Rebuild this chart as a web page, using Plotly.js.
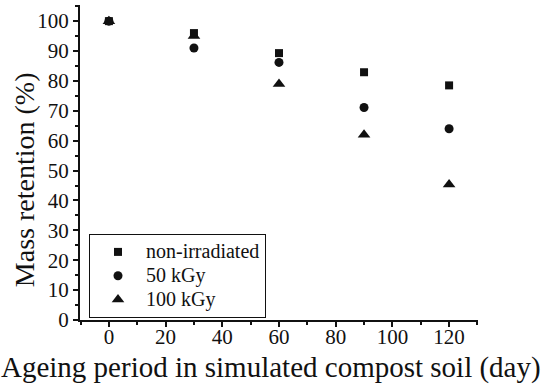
<!DOCTYPE html>
<html>
<head>
<meta charset="utf-8">
<script src="https://cdn.plot.ly/plotly-3.0.1.min.js"></script>
<style>html,body{margin:0;padding:0;background:#fff;}#chart{width:541px;height:389px;}</style>
</head>
<body>
<div id="chart"></div>
<script>
const days = [0, 30, 60, 90, 120];
const nonIrradiated = [100, 96, 89.3, 82.9, 78.5];
const kGy50 = [100, 91, 86.2, 71.1, 64];
const kGy100 = [100, 95, 79, 62, 45.3];
const seriesNames = ['non-irradiated', '50 kGy', '100 kGy'];
const xTicks = [0, 20, 40, 60, 80, 100, 120];
const yTicks = [0, 10, 20, 30, 40, 50, 60, 70, 80, 90, 100];
const xTitle = 'Ageing period in simulated compost soil (day)';
const yTitle = 'Mass retention (%)';

const font = '"Liberation Serif", serif';
const traces = [
  {x: days, y: kGy100, name: seriesNames[2], symbol: 'triangle-up', size: 11},
  {x: days, y: kGy50, name: seriesNames[1], symbol: 'circle', size: 9},
  {x: days, y: nonIrradiated, name: seriesNames[0], symbol: 'square', size: 8}
].map(t => ({
  x: t.x, y: t.y, type: 'scatter', mode: 'markers',
  name: '<span style="font-size:20px">' + t.name + '</span>',
  marker: {symbol: t.symbol, size: t.size, color: '#111'}
}));

const layout = {
  width: 541, height: 389,
  margin: {l: 80, r: 63, t: 5, b: 69},
  paper_bgcolor: '#fff', plot_bgcolor: '#fff',
  font: {family: font, color: '#111', size: 21},
  showlegend: true,
  legend: {
    x: 0.0226, y: 0.273, xanchor: 'left', yanchor: 'top',
    bordercolor: '#111', borderwidth: 1, bgcolor: '#fff',
    font: {family: font, size: 16, color: '#111'},
    traceorder: 'reversed', itemwidth: 46, tracegroupgap: 0
  },
  xaxis: {
    range: [-10.2, 130.2], tickvals: xTicks, ticktext: xTicks.map(String),
    showgrid: false, zeroline: false, showline: true, linecolor: '#111', linewidth: 2,
    ticks: 'outside', ticklen: 5, tickwidth: 2, tickcolor: '#111',
    ticklabelstandoff: -8,
    minor: {dtick: 10, tick0: 0, ticks: 'outside', ticklen: 3, tickwidth: 2, tickcolor: '#111'},
    tickfont: {family: font, size: 21, color: '#111'}
  },
  yaxis: {
    range: [0, 105.4], tickvals: yTicks, ticktext: yTicks.map(String),
    showgrid: false, zeroline: false, showline: true, linecolor: '#111', linewidth: 2,
    ticks: 'outside', ticklen: 5, tickwidth: 2, tickcolor: '#111',
    minor: {dtick: 5, tick0: 0, ticks: 'outside', ticklen: 3, tickwidth: 2, tickcolor: '#111'},
    tickfont: {family: font, size: 21, color: '#111'}
  },
  annotations: [{
    text: yTitle, textangle: -90, showarrow: false,
    xref: 'paper', yref: 'paper', x: -0.1407, y: 0.444,
    xanchor: 'center', yanchor: 'middle',
    font: {family: font, size: 28, color: '#111'}
  }, {
    text: xTitle, showarrow: false,
    xref: 'paper', yref: 'paper', x: 0.481, y: -0.152,
    xanchor: 'center', yanchor: 'middle',
    font: {family: font, size: 29, color: '#111'}
  }]
};

Plotly.newPlot('chart', traces, layout, {displayModeBar: false, staticPlot: true});
</script>
</body>
</html>
